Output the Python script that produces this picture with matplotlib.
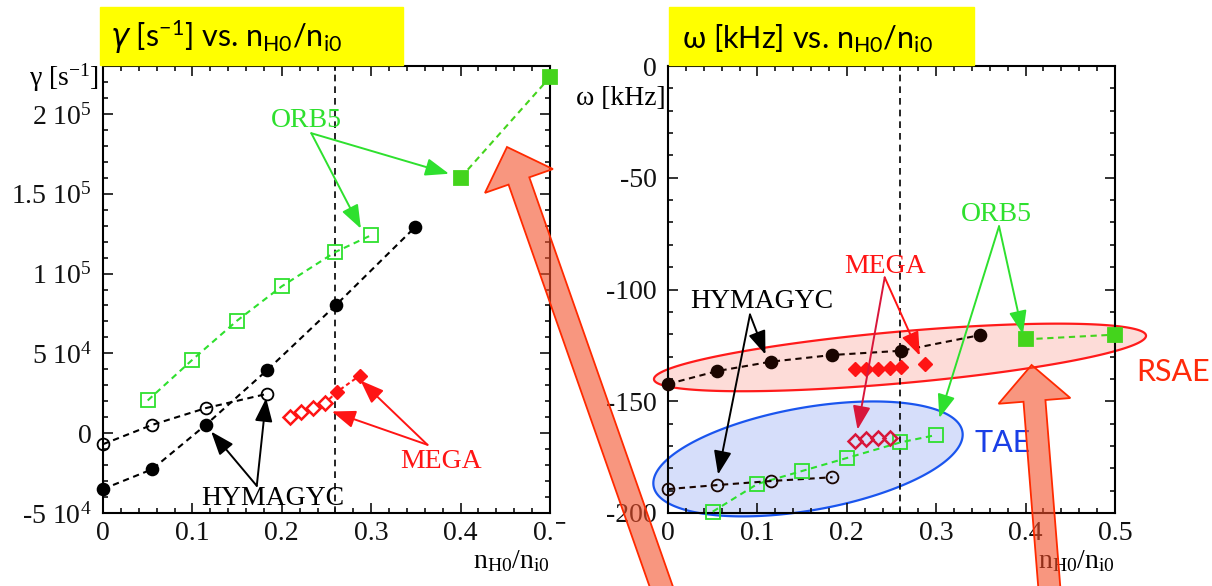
import matplotlib
matplotlib.use("Agg")
import matplotlib.pyplot as plt
import numpy as np
from matplotlib.patches import FancyArrow, Rectangle
from matplotlib.ticker import MultipleLocator

# hydrogen concentration n_H0/n_i0 of each scan point
x_hym_rsae = [0.0, 0.055, 0.115, 0.184, 0.261, 0.349]
x_hym_tae = [0.0, 0.055, 0.115, 0.184]
x_orb_tae = [0.05, 0.10, 0.15, 0.20, 0.26, 0.30]
x_orb_rsae = [0.40, 0.50]
x_mega_tae = [0.209, 0.222, 0.235, 0.248]
x_mega_rsae_gam = [0.262, 0.287]
x_mega_rsae_om = [0.209, 0.222, 0.235, 0.248, 0.261, 0.287]

# growth rate gamma [1/s]
gam_hym_rsae = [-3.5e4, -2.26e4, 5.2e3, 3.97e4, 8.05e4, 1.29e5]
gam_hym_tae = [-6.9e3, 5.2e3, 1.57e4, 2.47e4]
gam_orb_tae = [2.05e4, 4.6e4, 7.05e4, 9.2e4, 1.135e5, 1.24e5]
gam_orb_rsae = [1.6e5, 2.23e5]
gam_mega_tae = [1.0e4, 1.31e4, 1.6e4, 1.87e4]
gam_mega_rsae = [2.6e4, 3.6e4]

# frequency omega [kHz]
om_hym_rsae = [-142.3, -136.5, -132.3, -129.3, -127.4, -120.4]
om_hym_tae = [-189.3, -187.5, -185.7, -184.0]
om_orb_tae = [-199.4, -187.0, -181.2, -175.4, -168.4, -165.1]
om_orb_rsae = [-122.3, -120.2]
om_mega_tae = [-167.6, -166.9, -166.3, -166.3]
om_mega_rsae = [-135.7, -135.7, -135.7, -135.1, -134.8, -133.5]

x_ticks = [0.0, 0.1, 0.2, 0.3, 0.4, 0.5]
x_ticklabels = ["0", "0.1", "0.2", "0.3", "0.4", "0.5"]
gam_ticks = [-5e4, 0, 5e4, 1e5, 1.5e5, 2e5]
gam_ticklabels = ["-5 10$^{4}$", "0", "5 10$^{4}$", "1 10$^{5}$",
                  "1.5 10$^{5}$", "2 10$^{5}$"]
om_ticks = [0, -50, -100, -150, -200]
om_ticklabels = ["0", "-50", "-100", "-150", "-200"]
x_ref = 0.26

W, H = 1212, 586
plt.rcParams.update({
    "font.family": "Liberation Serif",
    "mathtext.fontset": "custom",
    "mathtext.default": "regular",
})

BLACK = "#000000"
DARK = "#1a0500"
GREEN = "#2ee02e"
GREEN_F = "#44d41c"
RED = "#ff1414"
CRIMSON = "#d8163a"

fig = plt.figure(figsize=(W / 100, H / 100), dpi=100)
ax1 = fig.add_axes([103 / W, 1 - 513 / H, 447 / W, 447 / H])
ax2 = fig.add_axes([668 / W, 1 - 513 / H, 447 / W, 447 / H])


def px(x, y):
    return x / W, 1 - y / H


def style_axes(ax, ylim, yticks, ylabels, yminor):
    ax.set_xlim(0, 0.5)
    ax.set_ylim(*ylim)
    ax.set_xticks(x_ticks, x_ticklabels)
    ax.set_yticks(yticks, ylabels)
    ax.xaxis.set_minor_locator(MultipleLocator(0.02))
    ax.yaxis.set_minor_locator(MultipleLocator(yminor))
    ax.tick_params(which="both", direction="in", top=True, right=True,
                   width=1.2, colors="#111111")
    ax.tick_params(which="major", length=7.5, labelsize=20, pad=8)
    ax.tick_params(which="minor", length=3.8)
    ax.tick_params(axis="x", pad=6)
    for s in ax.spines.values():
        s.set_linewidth(1.5)
        s.set_zorder(2.5)
    ax.axvline(x_ref, color="black", lw=1.2, ls=(0, (4, 3)), zorder=1.5)


def series(ax, x, y, marker, color, filled, ms, lcolor=None, dash=(3, 2.2)):
    ax.plot(x, y, color=lcolor or color, lw=1.5, ls=(0, dash), zorder=3)
    ax.plot(x, y, ls="none", marker=marker, ms=ms, mew=1.3,
            mec=color, mfc=color if filled else "none", zorder=4,
            clip_on=False)


def callout(ax, text, pos, start, tips, color, arrow_colors=None):
    ax.text(pos[0], pos[1], text, color=color, fontsize=20,
            ha="center", va="center", zorder=6)
    arrow_colors = arrow_colors or [color] * len(tips)
    for tip, ac in zip(tips, arrow_colors):
        ax.annotate("", xy=tip, xytext=start, annotation_clip=False,
                    arrowprops=dict(arrowstyle="-|>,head_length=0.8,head_width=0.3",
                                    mutation_scale=18, lw=1.4, color=ac,
                                    shrinkA=0, shrinkB=0), zorder=6)


def ellipse(ax, center, a, b, face, edge):
    t = np.linspace(0, 2 * np.pi, 300)
    xs = center[0] + a[0] * np.cos(t) + b[0] * np.sin(t)
    ys = center[1] + a[1] * np.cos(t) + b[1] * np.sin(t)
    ax.fill(xs, ys, facecolor=face, edgecolor=edge, lw=1.6,
            clip_on=False, zorder=1)


# ---- growth rate ----
style_axes(ax1, (-5e4, 2.3e5), gam_ticks, gam_ticklabels, 1e4)
series(ax1, x_orb_tae, gam_orb_tae, "s", GREEN, False, 9.5)
series(ax1, x_orb_rsae, gam_orb_rsae, "s", GREEN_F, True, 9.5)
series(ax1, x_hym_tae, gam_hym_tae, "o", BLACK, False, 8.5)
series(ax1, x_hym_rsae, gam_hym_rsae, "o", BLACK, True, 8.5)
ax1.plot(x_mega_tae + x_mega_rsae_gam, gam_mega_tae + gam_mega_rsae,
         color=RED, lw=1.5, ls=(0, (2, 1.5)), zorder=3)
ax1.plot(x_mega_tae, gam_mega_tae, ls="none", marker="D", ms=7, mew=1.8,
         mec=RED, mfc="white", zorder=4)
ax1.plot(x_mega_rsae_gam, gam_mega_rsae, ls="none", marker="D", ms=7,
         mec=RED, mfc=RED, zorder=4)

callout(ax1, "ORB5", (0.228, 1.958e5), (0.233, 1.879e5),
        [(0.387, 1.625e5), (0.2885, 1.281e5)], GREEN)
callout(ax1, "HYMAGYC", (0.190, -4.08e4), (0.172, -3.3e4),
        [(0.121, 1.0e3), (0.1825, 2.2e4)], BLACK)
callout(ax1, "MEGA", (0.378, -1.78e4), (0.363, -7.3e3),
        [(0.256, 1.36e4), (0.288, 3.3e4)], RED)

# ---- real frequency ----
style_axes(ax2, (-200, 0), om_ticks, om_ticklabels, 10)
ellipse(ax2, (0.2595, -130.4), (0.2752, 9.7), (0.0, 11.6), "#fddcd8", "#ff1a1a")
ellipse(ax2, (0.1566, -175.8), (0.1730, 10.87), (0.0, 23.3), "#d6defa", "#1a55ee")
series(ax2, x_orb_tae, om_orb_tae, "s", GREEN, False, 9.5)
series(ax2, x_orb_rsae, om_orb_rsae, "s", GREEN_F, True, 9.5)
series(ax2, x_hym_tae, om_hym_tae, "o", DARK, False, 8.5)
series(ax2, x_hym_rsae, om_hym_rsae, "o", DARK, True, 8.5)
ax2.plot(x_mega_rsae_om, om_mega_rsae, ls="none", marker="D", ms=7,
         mec=RED, mfc=RED, zorder=4)
ax2.plot(x_mega_tae, om_mega_tae, ls="none", marker="D", ms=7, mew=1.8,
         mec=CRIMSON, mfc="none", zorder=4)

callout(ax2, "HYMAGYC", (0.105, -105.2), (0.0917, -111.2),
        [(0.109, -129.1), (0.056, -182.8)], BLACK)
callout(ax2, "MEGA", (0.2424, -89.6), (0.2424, -94.6),
        [(0.2817, -129.6), (0.212, -162.7)], RED, [RED, CRIMSON])
callout(ax2, "ORB5", (0.3668, -66.5), (0.3703, -71.7),
        [(0.397, -120.1), (0.3035, -157.5)], GREEN)

# ---- axis labels and headers ----
fig.text(*px(99, 86), "γ [s$^{-1}$]", fontsize=20, ha="right", va="baseline")
fig.text(*px(666, 105), "ω [kHz]", fontsize=20, ha="right", va="baseline")
for xr in (550, 1115):
    fig.text(*px(xr, 568), "n$_{H0}$/n$_{i0}$", fontsize=20,
             ha="right", va="baseline")

for x0, x1 in ((100, 403), (669, 974)):
    fig.add_artist(Rectangle(px(x0, 65), (x1 - x0) / W, 58 / H,
                             transform=fig.transFigure, color="#ffff00",
                             zorder=1))
fig.text(*px(110, 47), r"$\mathit{\gamma}$ [s$^{-1}$] vs. n$_{H0}$/n$_{i0}$",
         family="Lato", fontsize=22, ha="left", va="baseline", zorder=2)
fig.text(*px(682, 48), "ω [kHz] vs. n$_{H0}$/n$_{i0}$",
         family="Lato", fontsize=22, ha="left", va="baseline", zorder=2)

fig.text(*px(1173, 372), "RSAE", family="Lato", fontsize=22, color="#ff2a0a",
         ha="center", va="center")
fig.text(*px(1003, 443), "TAE", family="Lato", fontsize=22, color="#1a3fe6",
         ha="center", va="center")

# the right panel hides the tail of the last tick label of the left one
fig.add_artist(Rectangle(px(553, 556), 25 / W, 32 / H,
                         transform=fig.transFigure, color="white", zorder=1))

# big shaded arrows pointing at the RSAE branch
for tail, tip in (((680, 640), (507, 147)), ((1053.5, 640), (1031.6, 365))):
    x0, y0 = tail[0] / 100, (H - tail[1]) / 100
    x1, y1 = tip[0] / 100, (H - tip[1]) / 100
    fig.add_artist(FancyArrow(x0, y0, x1 - x0, y1 - y0, width=0.22,
                              head_width=0.72, head_length=0.36,
                              length_includes_head=True,
                              facecolor=(0.957, 0.314, 0.165, 0.6),
                              edgecolor="#ff2a00", lw=1.3,
                              transform=fig.dpi_scale_trans, zorder=5))

fig.savefig("out.png", dpi=100)
